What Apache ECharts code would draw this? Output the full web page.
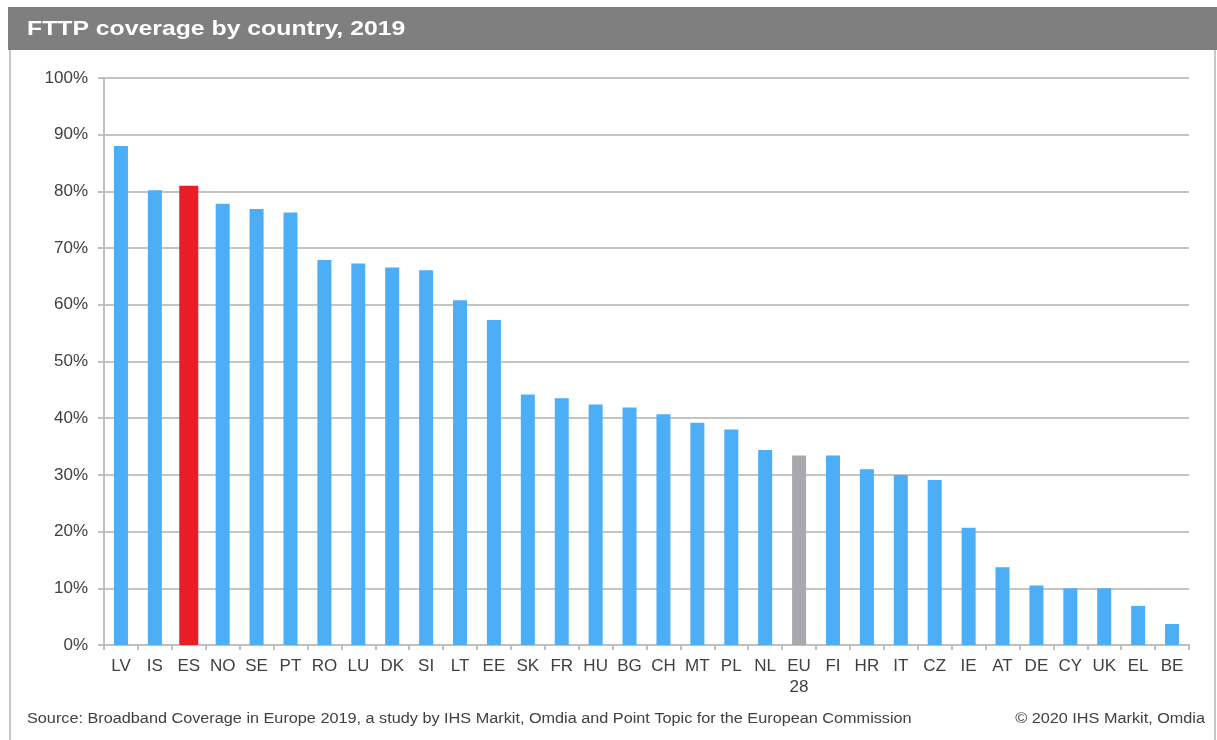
<!DOCTYPE html>
<html>
<head>
<meta charset="utf-8">
<script src="https://cdn.jsdelivr.net/npm/echarts@6/dist/echarts.min.js"></script>
<style>
  html, body { margin: 0; padding: 0; background: #fff; }
  #chart { width: 1217px; height: 740px; }
</style>
</head>
<body>
<div id="chart"></div>
<script>
const countries = ["LV", "IS", "ES", "NO", "SE", "PT", "RO", "LU", "DK", "SI", "LT", "EE", "SK", "FR", "HU", "BG",
  "CH", "MT", "PL", "NL", "EU\n28", "FI", "HR", "IT", "CZ", "IE", "AT", "DE", "CY", "UK", "EL", "BE"];
const coverage = [88, 80.2, 81.0, 77.8, 76.9, 76.3, 67.9, 67.3, 66.6, 66.1, 60.8, 57.3, 44.2, 43.5, 42.4, 41.9,
  40.7, 39.2, 38.0, 34.4, 33.4, 33.4, 31.0, 30.0, 29.1, 20.7, 13.7, 10.5, 10.0, 10.0, 6.9, 3.7];
const yTicks = [0, 10, 20, 30, 40, 50, 60, 70, 80, 90, 100];
const highlight = "ES";

const blue = "#4caef7";
const red = "#ec1c24";
const grey = "#a7a9ac";
const font = "'Liberation Sans', Arial, sans-serif";

const chart = echarts.init(document.getElementById("chart"));

// blue bars (EU average in grey), Spain drawn by its own wider series
const mainData = coverage.map((v, i) => {
  if (countries[i] === highlight) return "-";
  if (countries[i].startsWith("EU")) return { value: v, itemStyle: { color: grey } };
  return v;
});
const highlightData = coverage.map((v, i) => (countries[i] === highlight ? v : "-"));

chart.setOption({
  animation: false,
  textStyle: { fontFamily: font },
  grid: { left: 104, right: 28, top: 78, bottom: 95 },
  graphic: [
    {
      type: "rect",
      shape: { x: 10, y: 48, width: 1205, height: 700 },
      style: { fill: "none", stroke: "#c8c8c8", lineWidth: 2 }
    },
    {
      type: "rect",
      shape: { x: 8, y: 7, width: 1212, height: 43 },
      style: { fill: "#7f7f7f" }
    },
    {
      type: "text",
      x: 27,
      y: 29,
      scaleX: 1.18,
      style: {
        text: "FTTP coverage by country, 2019",
        fill: "#ffffff",
        font: "bold 21px " + font,
        textAlign: "left",
        textVerticalAlign: "middle"
      }
    },
    {
      type: "text",
      x: 27,
      y: 719,
      scaleX: 1.16,
      style: {
        text: "Source: Broadband Coverage in Europe 2019, a study by IHS Markit, Omdia and Point Topic for the European Commission",
        fill: "#404040",
        font: "14px " + font,
        textAlign: "left",
        textVerticalAlign: "middle"
      }
    },
    {
      type: "text",
      x: 1205,
      y: 719,
      scaleX: 1.16,
      style: {
        text: "© 2020 IHS Markit, Omdia",
        fill: "#404040",
        font: "14px " + font,
        textAlign: "right",
        textVerticalAlign: "middle"
      }
    }
  ],
  xAxis: [
    {
      type: "category",
      data: countries,
      axisLine: { lineStyle: { color: "#bfbfbf", width: 2 } },
      axisTick: { show: true, length: 5, lineStyle: { color: "#bfbfbf", width: 2 } },
      axisLabel: { interval: 0, color: "#404040", fontSize: 17, margin: 11, lineHeight: 21 }
    },
    {
      type: "category",
      data: countries,
      show: false
    }
  ],
  yAxis: {
    type: "value",
    min: 0,
    max: 100,
    interval: 10,
    axisLine: { show: true, lineStyle: { color: "#bfbfbf", width: 2 } },
    axisTick: { show: true, length: 6, lineStyle: { color: "#bfbfbf", width: 2 } },
    axisLabel: {
      color: "#404040",
      fontSize: 17,
      margin: 16,
      formatter: v => (yTicks.includes(v) ? v + "%" : "")
    },
    splitLine: { lineStyle: { color: "#c4c4c4", width: 2 } }
  },
  series: [
    {
      type: "bar",
      data: mainData,
      barWidth: 14,
      itemStyle: { color: blue }
    },
    {
      type: "bar",
      xAxisIndex: 1,
      data: highlightData,
      barWidth: 19,
      itemStyle: { color: red }
    }
  ]
});
</script>
</body>
</html>
